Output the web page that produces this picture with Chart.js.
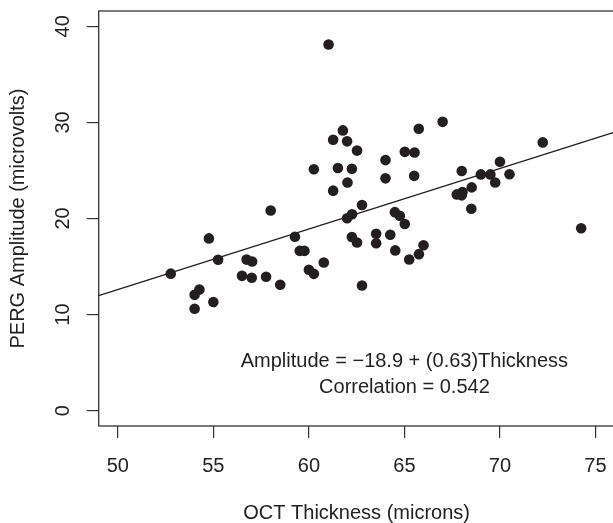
<!DOCTYPE html>
<html>
<head>
<meta charset="utf-8" />
<title>PERG Amplitude vs OCT Thickness</title>
<script src="https://cdn.jsdelivr.net/npm/chart.js"></script>
<style>
  html, body { margin: 0; padding: 0; background: #fff; overflow: hidden; }
  #wrap { width: 640px; height: 523px; }
</style>
</head>
<body>
<div id="wrap"><canvas id="myChart" width="640" height="523"></canvas></div>
<script>
// OCT thickness (microns) for each eye
const thickness = [
  61.03, 67.0, 61.78, 65.75, 61.27, 62.0, 72.24, 62.52, 65.02, 65.53,
  64.01, 70.0, 60.26, 61.52, 62.25, 68.0, 69.0, 69.5, 70.5, 65.51,
  64.01, 62.02, 69.75, 61.27, 68.52, 68.04, 67.74, 68.0, 62.78, 58.0,
  68.5, 64.5, 62.26, 64.76, 62.0, 65.02, 74.25, 54.77, 59.27, 63.52,
  64.26, 62.25, 62.52, 63.52, 66.0, 59.52, 59.77, 64.52, 65.76, 55.25,
  56.74, 57.03, 65.25, 60.78, 60.0, 60.26, 52.77, 56.5, 57.01, 57.76,
  58.5, 62.78, 54.27, 54.02, 55.0, 54.02
];
// PERG amplitude (microvolts), same order
const amplitude = [
  38.12, 30.06, 29.17, 29.34, 28.19, 28.03, 27.92, 27.07, 26.94, 26.87,
  26.08, 25.9, 25.13, 25.25, 25.18, 24.94, 24.59, 24.59, 24.6, 24.44,
  24.18, 23.75, 23.74, 22.9, 23.24, 22.75, 22.51, 22.41, 21.4, 20.83,
  21.02, 20.66, 20.45, 20.28, 20.03, 19.42, 18.99, 17.93, 18.1, 18.42,
  18.31, 18.07, 17.5, 17.43, 17.22, 16.63, 16.63, 16.68, 16.29, 15.7,
  15.72, 15.52, 15.73, 15.42, 14.67, 14.24, 14.26, 14.03, 13.84, 13.94,
  13.11, 13.02, 12.6, 12.05, 11.31, 10.61
];
const xTicks = [50, 55, 60, 65, 70, 75];
const yTicks = [0, 10, 20, 30, 40];
const xMin = 49, xMax = 76;
const yMin = -1.6, yMax = 41.6;
const intercept = -18.9;
const slope = 0.63;
const correlation = 0.542;

const ink = '#231f20';
const axisCol = '#333';
const fam = '"Liberation Sans", Arial, Helvetica, sans-serif';
Chart.defaults.font.family = fam;

const points = thickness.map((t, i) => ({ x: t, y: amplitude[i] }));
const fitLine = [xMin, xMax].map(v => ({ x: v, y: intercept + slope * v }));

// box round the plot region and the fit text
const framePlugin = {
  id: 'frame',
  afterDatasetsDraw(chart) {
    const { ctx, chartArea: a, scales: { x, y } } = chart;
    ctx.save();
    ctx.strokeStyle = axisCol;
    ctx.lineWidth = 1.3;
    ctx.strokeRect(a.left, a.top, a.right - a.left, a.bottom - a.top);
    ctx.fillStyle = ink;
    ctx.font = '20px ' + fam;
    ctx.textAlign = 'center';
    ctx.textBaseline = 'middle';
    const cx = x.getPixelForValue(65);
    ctx.fillText('Amplitude = \u2212' + Math.abs(intercept) + ' + (' + slope + ')Thickness', cx, y.getPixelForValue(5.15));
    ctx.fillText('Correlation = ' + correlation, cx, y.getPixelForValue(2.45));
    ctx.restore();
  }
};

new Chart(document.getElementById('myChart'), {
  type: 'scatter',
  data: {
    datasets: [
      {
        data: points,
        pointRadius: 5.3,
        pointHoverRadius: 5.3,
        backgroundColor: ink,
        borderWidth: 0
      },
      {
        type: 'line',
        data: fitLine,
        borderColor: ink,
        borderWidth: 1.3,
        pointRadius: 0,
        fill: false
      }
    ]
  },
  plugins: [framePlugin],
  options: {
    responsive: false,
    animation: false,
    devicePixelRatio: 1,
    layout: { padding: { left: 0, right: 25.4, top: 11, bottom: 0 } },
    plugins: { legend: { display: false }, tooltip: { enabled: false } },
    scales: {
      x: {
        type: 'linear',
        min: xMin,
        max: xMax,
        afterBuildTicks: s => { s.ticks = xTicks.map(v => ({ value: v })); },
        afterFit: s => { s.height = 97; s.paddingLeft = 0; s.paddingRight = 0; },
        border: { display: false },
        grid: { drawOnChartArea: false, drawTicks: true, tickLength: 12, color: axisCol, lineWidth: 1.2 },
        ticks: { font: { size: 20 }, color: '#222', padding: 16, maxRotation: 0 },
        title: {
          display: true,
          text: 'OCT Thickness (microns)',
          color: '#222',
          font: { size: 20, lineHeight: 1 },
          padding: { top: 0, bottom: 0 }
        }
      },
      y: {
        type: 'linear',
        min: yMin,
        max: yMax,
        afterBuildTicks: s => { s.ticks = yTicks.map(v => ({ value: v })); },
        afterFit: s => { s.width = 98.7; s.paddingTop = 0; s.paddingBottom = 0; },
        border: { display: false },
        grid: { drawOnChartArea: false, drawTicks: true, tickLength: 12, color: axisCol, lineWidth: 1.2 },
        ticks: { font: { size: 20 }, color: '#222', padding: 12, minRotation: 90, maxRotation: 90, crossAlign: 'center' },
        title: {
          display: true,
          text: 'PERG Amplitude (microvolts)',
          color: '#222',
          font: { size: 20, lineHeight: 1 },
          padding: { top: 8.6, bottom: 0 }
        }
      }
    }
  }
});
</script>
</body>
</html>
